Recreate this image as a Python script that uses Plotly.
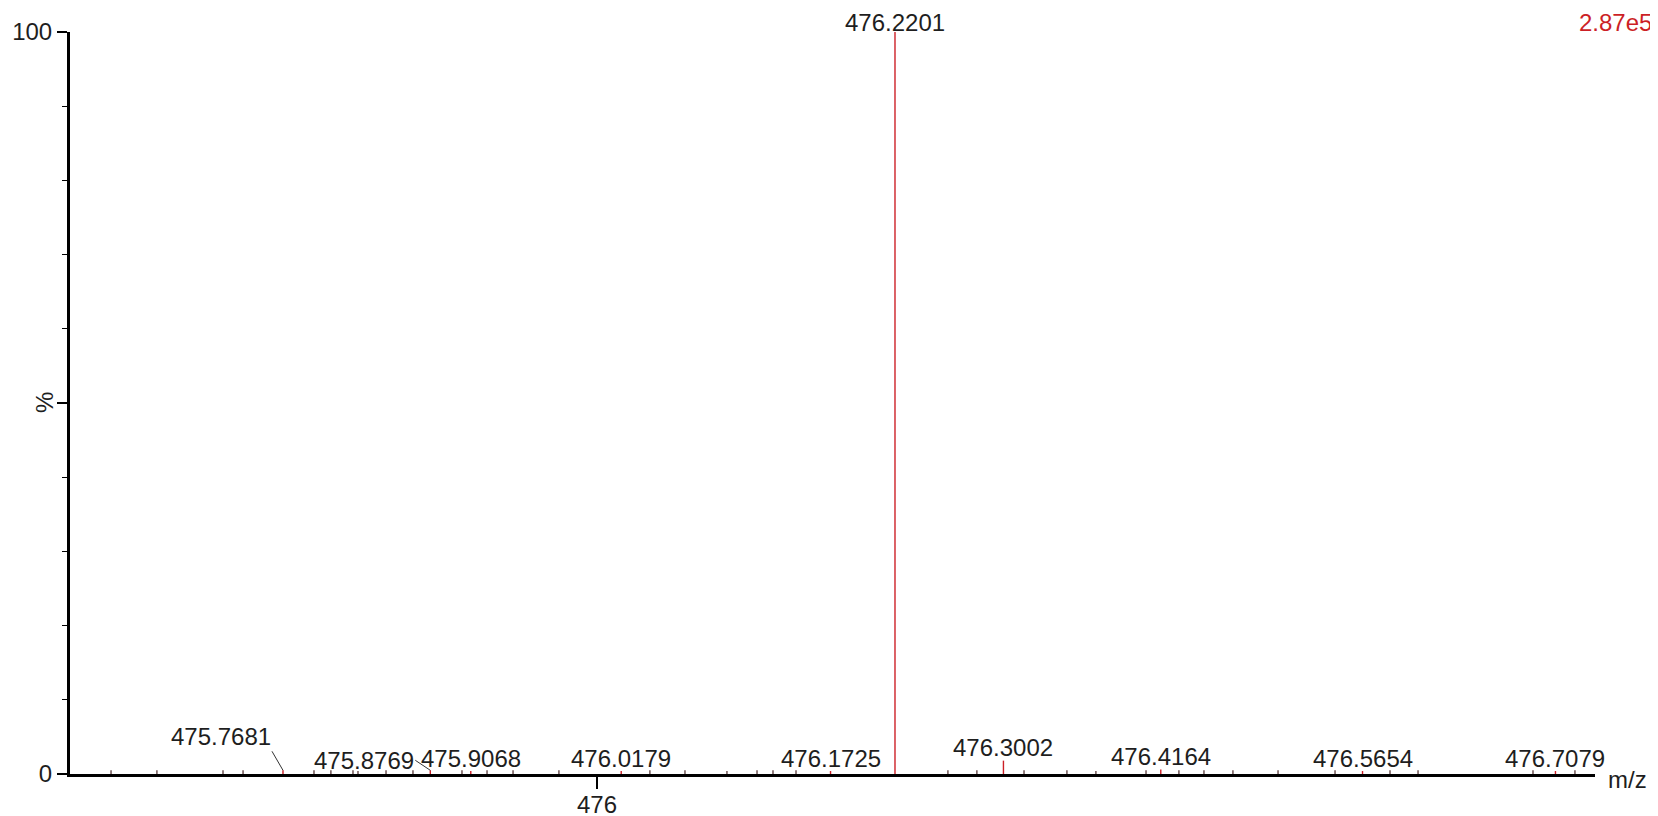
import plotly.graph_objects as go

# ---- data ----
mz_labeled = [475.7681, 475.8769, 475.9068, 476.0179, 476.1725, 476.2201,
              476.3002, 476.4164, 476.5654, 476.7079]
int_labeled = [0.5, 0.5, 0.4, 0.4, 0.4, 100.0, 1.8, 0.6, 0.4, 0.4]
labels = ["475.7681", "475.8769", "475.9068", "476.0179", "476.1725", "476.2201",
          "476.3002", "476.4164", "476.5654", "476.7079"]

mz_noise = [475.6411, 475.6750, 475.7238, 475.7386, 475.7910, 475.8035, 475.8198,
            475.8235, 475.8442, 475.8641, 475.9003, 475.9188, 475.9380, 475.9719,
            476.0391, 476.0650, 476.0960, 476.1182, 476.1300, 476.1470, 476.2592,
            476.2806, 476.3154, 476.3471, 476.3685, 476.4055, 476.4298, 476.4483,
            476.4697, 476.5030, 476.5451, 476.5857, 476.6064, 476.6913, 476.7223]
int_noise = [0.5, 0.5, 0.5, 0.5, 0.5, 0.5, 0.5, 0.4, 0.5, 0.5, 0.5, 0.5, 0.5, 0.5,
             0.5, 0.5, 0.4, 0.5, 0.5, 0.5, 0.5, 0.5, 0.5, 0.5, 0.4, 0.5, 0.5, 0.5,
             0.5, 0.5, 0.5, 0.5, 0.5, 0.5, 0.5]

x_range = [475.6108, 476.7371]
base_peak_abs = "2.87e5"

RED = "#cc1f26"
NOISE = "#4a2a2a"
FONT = "Liberation Sans, Arial, sans-serif"
TXT = "#1e1e1e"
FS = 24

fig = go.Figure()

# ---- noise stems ----
nx, ny = [], []
for m, i in zip(mz_noise, int_noise):
    nx += [m, m, None]
    ny += [0, i, None]
fig.add_trace(go.Scatter(x=nx, y=ny, mode="lines",
                         line=dict(color=NOISE, width=1.2),
                         hoverinfo="skip", showlegend=False))

# ---- labelled stems ----
sx, sy = [], []
for m, i in zip(mz_labeled, int_labeled):
    sx += [m, m, None]
    sy += [0, i, None]
fig.add_trace(go.Scatter(x=sx, y=sy, mode="lines",
                         line=dict(color=RED, width=1.4),
                         hoverinfo="skip", showlegend=False))

# ---- peak labels ----
# labels that are pushed aside and joined to their peak by a short leader
leader = {"475.7681": (-11, -19, "bottom"), "475.8769": (-15, -10, "middle")}
for m, i, t in zip(mz_labeled, int_labeled, labels):
    if t in leader:
        ax, ay, ya = leader[t]
        fig.add_annotation(x=m, y=i, text=t, showarrow=True, arrowhead=0,
                           arrowwidth=1, arrowcolor="#333333",
                           ax=ax, ay=ay, xanchor="right", yanchor=ya,
                           borderpad=0,
                           font=dict(family=FONT, size=FS, color=TXT))
    else:
        shift = 10 if i >= 100 else 13
        fig.add_annotation(x=m, y=i, text=t, showarrow=False,
                           yanchor="middle", yshift=shift, borderpad=0,
                           font=dict(family=FONT, size=FS, color=TXT))

# axis decorations
fig.add_annotation(xref="paper", yref="paper", x=1, y=0, text="m/z",
                   showarrow=False, xanchor="left", yanchor="middle",
                   xshift=11, yshift=-5,
                   font=dict(family=FONT, size=FS, color=TXT))
fig.add_annotation(xref="paper", yref="paper", x=0, y=0.5, text="%",
                   showarrow=False, textangle=-90, xanchor="center",
                   yanchor="middle", xshift=-26,
                   font=dict(family=FONT, size=FS, color=TXT))
fig.add_annotation(xref="paper", yref="paper", x=1, y=1, text=base_peak_abs,
                   showarrow=False, xanchor="right", yanchor="middle",
                   xshift=58, yshift=10, borderpad=0,
                   font=dict(family=FONT, size=FS, color=RED))

# the page body adds an 8px offset; margins compensate for it
fig.update_layout(
    width=1658, height=816,
    margin=dict(l=62, r=71, t=24, b=50),
    paper_bgcolor="white", plot_bgcolor="white",
    showlegend=False,
    font=dict(family=FONT, size=FS, color=TXT),
    xaxis=dict(range=x_range, showgrid=False, zeroline=False, automargin=False,
               showline=True, linecolor="black", linewidth=3,
               tickvals=[476], ticktext=["476"], ticks="outside",
               ticklen=12, tickwidth=1.5, tickcolor="black",
               ticklabelstandoff=-5,
               tickfont=dict(family=FONT, size=FS, color=TXT)),
    yaxis=dict(range=[0, 100], showgrid=False, zeroline=False, automargin=False,
               showline=True, linecolor="black", linewidth=3,
               tickvals=[0, 50, 100], ticktext=["0", "", "100"],
               ticks="outside", ticklen=10, tickwidth=1.5, tickcolor="black",
               tickfont=dict(family=FONT, size=FS, color=TXT),
               minor=dict(dtick=10, tick0=0, ticks="outside", ticklen=5,
                          tickcolor="black", tickwidth=1, showgrid=False)),
)

fig.write_html("out.html")
